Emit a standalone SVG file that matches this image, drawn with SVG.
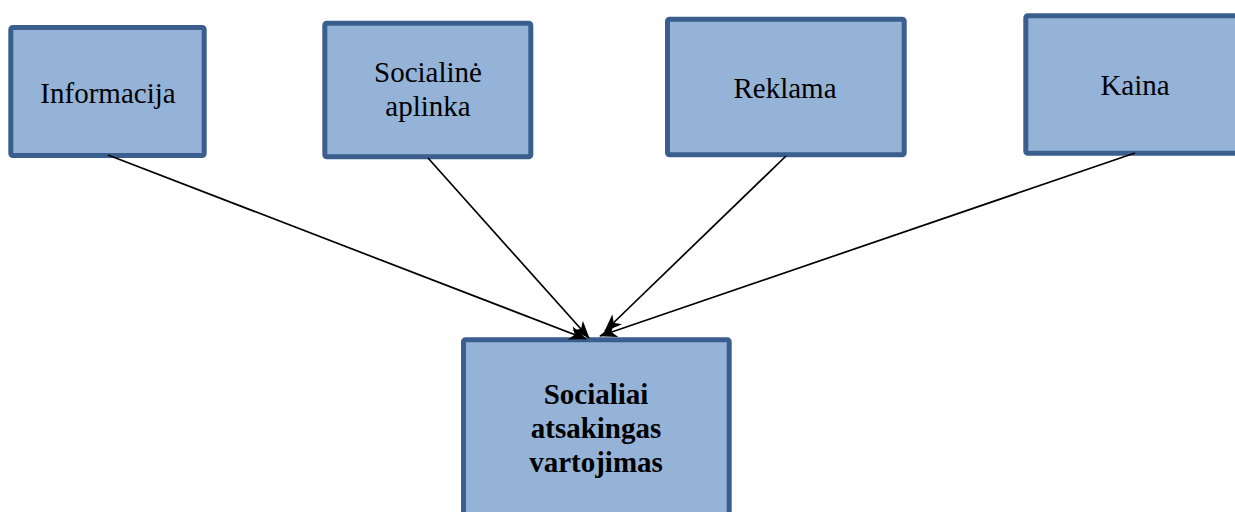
<svg xmlns="http://www.w3.org/2000/svg" width="1235" height="512" viewBox="0 0 1235 512">
  <style>
    .box { fill: #95B3D7; stroke: #3A5F8F; stroke-width: 5; }
    .lbl { font-family: "Liberation Serif", "Times New Roman", serif; font-size: 29px; fill: #000; text-anchor: middle; }
    .bold { font-weight: bold; }
    .conn { stroke: #000; stroke-width: 1.7; fill: none; marker-end: url(#arrow); }
  </style>
  <defs>
    <marker id="arrow" viewBox="0 0 18 14" refX="17" refY="7" markerWidth="18" markerHeight="14" markerUnits="userSpaceOnUse" orient="auto" overflow="visible">
      <path d="M0,0 L18,7 L0,14 L5,7 Z" fill="#000"/>
    </marker>
  </defs>

  <rect width="1235" height="512" fill="#fff"/>

  <g id="node-informacija">
    <rect class="box" x="10.8" y="27.5" width="193.4" height="128" rx="2"/>
    <text class="lbl" x="108" y="103">Informacija</text>
  </g>

  <g id="node-socialine-aplinka">
    <rect class="box" x="324.8" y="23.2" width="206" height="133.5" rx="2"/>
    <text class="lbl" x="428" y="82">Socialinė</text>
    <text class="lbl" x="428" y="116">aplinka</text>
  </g>

  <g id="node-reklama">
    <rect class="box" x="667.5" y="19.2" width="236.7" height="135.6" rx="2"/>
    <text class="lbl" x="785" y="98">Reklama</text>
  </g>

  <g id="node-kaina">
    <rect class="box" x="1025.8" y="15.8" width="220" height="137.4" rx="2"/>
    <text class="lbl" x="1135" y="95">Kaina</text>
  </g>

  <g id="node-socialiai-atsakingas-vartojimas">
    <rect class="box" x="463.5" y="339.8" width="265.7" height="200" rx="2"/>
    <text class="lbl bold" x="596" y="404">Socialiai</text>
    <text class="lbl bold" x="596" y="438">atsakingas</text>
    <text class="lbl bold" x="596" y="472">vartojimas</text>
  </g>

  <g id="connectors">
    <line class="conn" x1="108" y1="155" x2="586" y2="339"/>
    <line class="conn" x1="428" y1="158" x2="589" y2="338"/>
    <line class="conn" x1="786" y1="156" x2="605" y2="331"/>
    <line class="conn" x1="1135" y1="153" x2="600" y2="336"/>
  </g>
</svg>
